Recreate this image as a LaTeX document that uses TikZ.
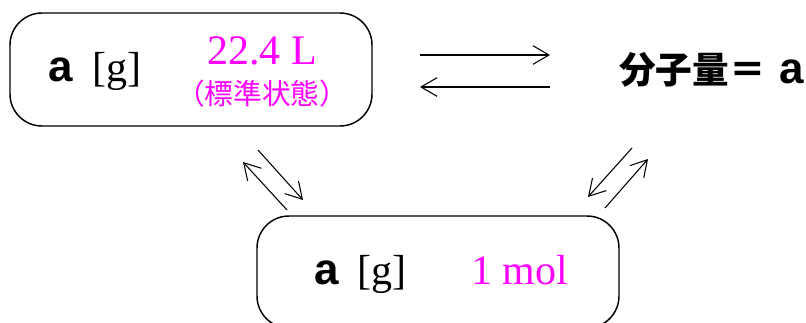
\documentclass[tikz,border=0pt]{standalone}
\usepackage{fontspec}
\setmainfont{Liberation Serif}
\newfontfamily\arialf{Liberation Sans}
\newfontfamily\cjk{Noto Sans CJK JP}
\usetikzlibrary{arrows.meta}
\definecolor{mag}{HTML}{FF00FF}
\tikzset{
  box/.style={draw=black, line width=1.1pt, rounded corners=24pt, inner sep=0pt},
  conn/.style={line width=0.8pt, -{Straight Barb[length=12pt,width=14pt,line width=0.8pt]}},
  lbl/.style={inner sep=0pt, anchor=base west},
  va/.style={lbl, font=\arialf\bfseries\fontsize{33}{36}\selectfont},
  vg/.style={lbl, font=\fontsize{31.5}{34}\selectfont},
  vm/.style={lbl, text=mag, font=\fontsize{31.5}{34}\selectfont},
}
\begin{document}
\begin{tikzpicture}[x=0.75pt,y=-0.75pt]
\useasboundingbox (0,0) rectangle (806,322);
\clip (0,0) rectangle (806,322);
% boxes
\node[box, minimum width=362*0.75pt, minimum height=113*0.75pt] (top) at (191,69.5) {};
\node[box, minimum width=362*0.75pt, minimum height=112*0.75pt] (bot) at (438,272) {};
% top box texts
\node[va] (ta) at (48,81) {a};
\node[vg] (tg) at (92,81) {[g]};
\node[vm] (tl) at (207,64) {22.4 L};
\node[text=mag, inner sep=0pt, font=\cjk\fontsize{21.5}{23}\selectfont] (ts) at (262,94) {（標準状態）};
% right text
\node[inner sep=0pt, anchor=base west, font=\cjk\bfseries\fontsize{27.5}{29}\selectfont] (mw) at (619,83) {分子量＝};
\node[va] (mwa) at (779,83) {a};
% bottom box texts
\node[va] (ba) at (314,284) {a};
\node[vg] (bg) at (357,284) {[g]};
\node[vm] (bm) at (471,284) {1 mol};
% arrow endpoints
\coordinate (h1s) at (420,55);  \coordinate (h1e) at (550,55);
\coordinate (h2s) at (550,87);  \coordinate (h2e) at (420,87);
\coordinate (l1s) at (287,210); \coordinate (l1e) at (243,162);
\coordinate (l2s) at (258,150); \coordinate (l2e) at (303,200);
\coordinate (r1s) at (632,148); \coordinate (r1e) at (588,197);
\coordinate (r2s) at (605,208); \coordinate (r2e) at (648,159);
\draw[conn] (h1s) -- (h1e);
\draw[conn] (h2s) -- (h2e);
\draw[conn] (l1s) -- (l1e);
\draw[conn] (l2s) -- (l2e);
\draw[conn] (r1s) -- (r1e);
\draw[conn] (r2s) -- (r2e);
\end{tikzpicture}
\end{document}
